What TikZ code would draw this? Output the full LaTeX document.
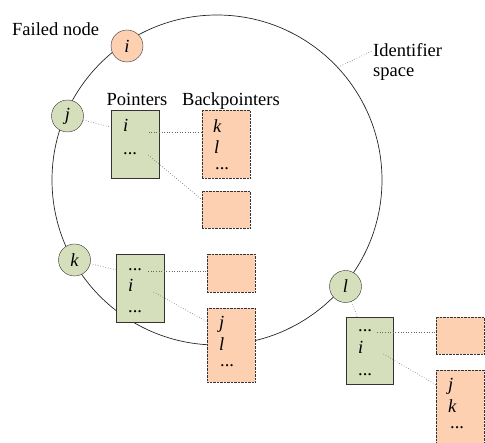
\documentclass[tikz,border=0pt]{standalone}
\usepackage{fontspec}
\setmainfont{Liberation Serif}
\newfontfamily\labelfont{Liberation Serif}
\usetikzlibrary{positioning}
\usepackage{xcolor}

\definecolor{peergreen}{RGB}{214,223,187}
\definecolor{peerorange}{RGB}{253,208,177}

\tikzset{
  txt/.style={inner sep=0pt, font=\labelfont\fontsize{18.5}{20}\selectfont},
  peer/.style={circle, draw=black!80, fill=peergreen, minimum size=32pt,
    inner sep=0pt, font=\labelfont\fontsize{18.5}{20}\selectfont\itshape},
  failed/.style={peer, fill=peerorange},
  ptrtable/.style={draw=black!80, fill=peergreen, minimum width=48pt,
    minimum height=68pt, inner sep=0pt},
  backtable/.style={draw=black!80, densely dotted, fill=peerorange,
    minimum width=48pt, inner sep=0pt},
  entry/.style={txt, anchor=base west},
  link/.style={dotted, black!60, line width=0.6pt}
}

\begin{document}
\begin{tikzpicture}[x=1pt, y=-1pt]
  \useasboundingbox (0,0) rectangle (485,443);

  % the identifier ring
  \node[circle, draw=black!85, line width=0.7pt, minimum size=330pt, inner sep=0pt] (ring) at (217,180) {};

  % peers on the ring
  \node[failed] (ni) at (127,46) {i};
  \node[peer] (nj) at (67.5,116) {j};
  \node[peer] (nk) at (74.5,260) {k};
  \node[peer] (nl) at (345.5,286.5) {l};

  % pointer and backpointer tables
  \node[ptrtable] (pj) at (135,144) {};
  \node[backtable, minimum height=68pt] (bj) at (226,144) {};
  \node[backtable, minimum height=37pt] (ej) at (226,209.5) {};

  \node[ptrtable] (pk) at (140,288) {};
  \node[backtable, minimum height=38pt] (ek) at (231,273) {};
  \node[backtable, minimum height=74pt] (bk) at (231,345) {};

  \node[ptrtable, minimum width=47pt, minimum height=67pt] (pl) at (369.5,350.5) {};
  \node[backtable, minimum height=37pt] (el) at (460,335.5) {};
  \node[backtable, minimum height=76pt] (bl) at (460,408) {};

  % table entries
  \node[entry] (pj-i) at (123,132) {\textit{i}};
  \node[entry] (pj-d) at (123,155) {...};
  \node[entry] (bj-k) at (213,133) {\textit{k}};
  \node[entry] (bj-l) at (214,154) {\textit{l}};
  \node[entry] (bj-d) at (215,170) {...};

  \node[entry] (pk-d1) at (128,271) {...};
  \node[entry] (pk-i) at (128,292) {\textit{i}};
  \node[entry] (pk-d2) at (128,313) {...};
  \node[entry] (bk-j) at (219,329) {\textit{j}};
  \node[entry] (bk-l) at (219,351) {\textit{l}};
  \node[entry] (bk-d) at (220,367) {...};

  \node[entry] (pl-d1) at (358,332) {...};
  \node[entry] (pl-i) at (358,354) {\textit{i}};
  \node[entry] (pl-d2) at (358,376) {...};
  \node[entry] (bl-j) at (448,391) {\textit{j}};
  \node[entry] (bl-k) at (448,413) {\textit{k}};
  \node[entry] (bl-d) at (450,429) {...};

  % labels
  \node[txt, anchor=base west] (lfail) at (12,36) {Failed node};
  \node[txt, anchor=base] (lptr) at (137,106) {Pointers};
  \node[txt, anchor=base] (lback) at (231,106) {Backpointers};
  \node[txt, anchor=base west] (lid) at (373,57) {Identifier};
  \node[txt, anchor=base west] (lspace) at (373,77) {space};

  % links
  \draw[link] (ring.43) -- (lid.west);
  \draw[link] (nj) -- (pj.145);
  \draw[link] ([xshift=20pt]pj-i.base east) -- (bj.west |- pj-i.base east);
  \draw[link] ([xshift=11pt]pj-d.base east) -- (ej.158);
  \draw[link] (nk) -- (pk.143);
  \draw[link] ([xshift=6pt]pk-d1.base east) -- (ek.west |- pk-d1.base east);
  \draw[link] ([xshift=20pt]pk-i.base east) -- (bk.136);
  \draw[link] (nl) -- (pl.110);
  \draw[link] ([xshift=5pt]pl-d1.base east) -- (el.west |- pl-d1.base east);
  \draw[link] ([xshift=20pt]pl-i.base east) -- (bl.136);
\end{tikzpicture}
\end{document}
